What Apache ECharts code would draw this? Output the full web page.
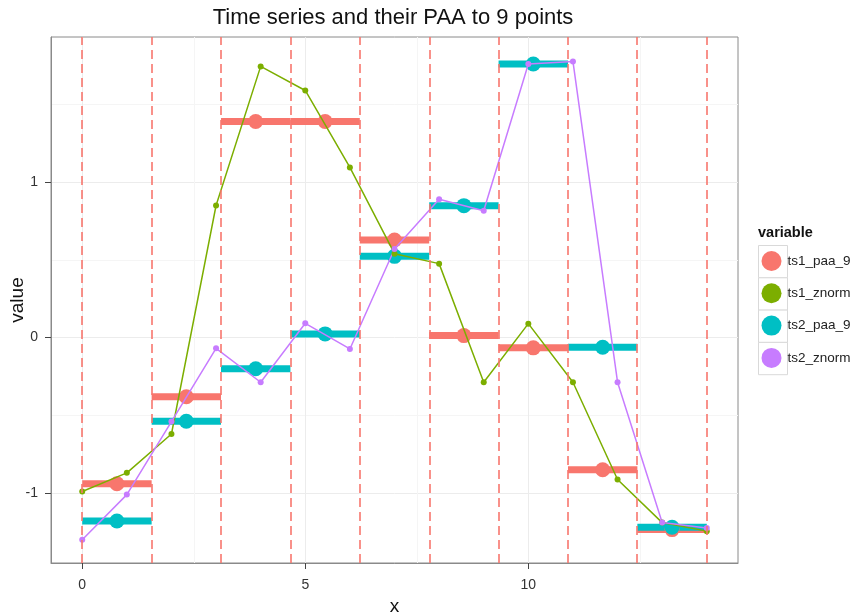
<!DOCTYPE html>
<html>
<head>
<meta charset="utf-8">
<script src="https://cdn.jsdelivr.net/npm/echarts@6/dist/echarts.min.js"></script>
<style>
  html, body { margin: 0; padding: 0; background: #fff; }
  #chart { width: 856px; height: 616px; }
</style>
</head>
<body>
<div id="chart"></div>
<script>
// values
const xs = [0, 1, 2, 3, 4, 5, 6, 7, 8, 9, 10, 11, 12, 13, 14];
const ts1Znorm = [-0.99, -0.87, -0.62, 0.85, 1.745, 1.59, 1.095, 0.54, 0.476, -0.287, 0.09, -0.287, -0.913, -1.19, -1.245];
const ts2Znorm = [-1.30, -1.01, -0.54, -0.069, -0.287, 0.092, -0.073, 0.57, 0.89, 0.816, 1.76, 1.777, -0.287, -1.19, -1.225];

// PAA segment borders (9 segments over 0..14) and segment means
const breaks = [0, 1.556, 3.111, 4.667, 6.222, 7.778, 9.333, 10.889, 12.444, 14];
const ts1Paa = [-0.94, -0.38, 1.39, 1.39, 0.628, 0.013, -0.066, -0.85, -1.235];
const ts2Paa = [-1.18, -0.538, -0.20, 0.024, 0.523, 0.849, 1.76, -0.062, -1.22];

const variables = ['ts1_paa_9', 'ts1_znorm', 'ts2_paa_9', 'ts2_znorm'];
const colors = ['#F8766D', '#7CAE00', '#00BFC4', '#C77CFF'];

const xTicks = [0, 5, 10];
const xMinor = [2.5, 7.5, 12.5];
const yTicks = [-1, 0, 1];
const yMinor = [-0.5, 0.5, 1.5];

const FONT = '"Liberation Sans", Arial, sans-serif';

const segs = vals => vals.map((v, i) => [breaks[i], breaks[i + 1], v]);
const mids = vals => vals.map((v, i) => [(breaks[i] + breaks[i + 1]) / 2, v]);
const pts = vals => vals.map((v, i) => [xs[i], v]);

function paaBars(name, vals, color) {
  return {
    name: name,
    type: 'custom',
    z: 2,
    itemStyle: { color: color },
    encode: { x: [0, 1], y: 2 },
    data: segs(vals),
    renderItem: (params, api) => {
      const a = api.coord([api.value(0), api.value(2)]);
      const b = api.coord([api.value(1), api.value(2)]);
      return {
        type: 'rect',
        shape: { x: a[0], y: a[1] - 3.5, width: b[0] - a[0], height: 7 },
        style: { fill: color }
      };
    }
  };
}

function paaPoints(name, vals, color) {
  return {
    name: name,
    type: 'scatter',
    z: 3,
    symbol: 'circle',
    symbolSize: 15,
    itemStyle: { color: color, opacity: 1 },
    data: mids(vals)
  };
}

function znormLine(name, vals, color) {
  return {
    name: name,
    type: 'line',
    z: 4,
    symbol: 'circle',
    symbolSize: 6,
    showSymbol: true,
    itemStyle: { color: color },
    lineStyle: { color: color, width: 1.5 },
    data: pts(vals)
  };
}

const chart = echarts.init(document.getElementById('chart'));
chart.setOption({
  animation: false,
  backgroundColor: '#fff',
  title: [
    {
      text: 'Time series and their PAA to 9 points',
      left: 393, top: 7, padding: 0, textAlign: 'center',
      textStyle: { fontFamily: FONT, fontSize: 22, fontWeight: 'normal', color: '#111' }
    },
    {
      text: 'variable',
      left: 758, top: 225, padding: 0,
      textStyle: { fontFamily: FONT, fontSize: 14.5, fontWeight: 'bold', color: '#111' }
    }
  ],
  legend: {
    orient: 'vertical',
    left: 761.5, top: 251, padding: 0,
    itemWidth: 22, itemHeight: 20, itemGap: 12.3,
    data: variables.map(v => ({ name: v, icon: 'circle' })),
    textStyle: { fontFamily: FONT, fontSize: 13.5, color: '#222' }
  },
  graphic: variables.map((v, i) => ({
    type: 'rect',
    left: 758, top: 245 + i * 32.3, z: 0,
    shape: { width: 29, height: 32.3 },
    style: { fill: '#fff', stroke: '#d9d9d9', lineWidth: 1 }
  })),
  grid: {
    left: 51, right: 118, top: 37, bottom: 53,
    containLabel: false, outerBoundsMode: 'none',
    show: true, borderColor: '#8a8a8a', borderWidth: 1, backgroundColor: '#fff'
  },
  xAxis: [
    {
      type: 'value', min: -0.7, max: 14.7,
      name: 'x', nameLocation: 'middle', nameGap: 34, nameMoveOverlap: false,
      nameTextStyle: { fontFamily: FONT, fontSize: 19, color: '#111' },
      axisLine: { show: true, onZero: false, lineStyle: { color: '#8a8a8a' } },
      axisTick: { show: true, length: 6, customValues: xTicks, lineStyle: { color: '#444' } },
      axisLabel: { customValues: xTicks, margin: 15, fontFamily: FONT, fontSize: 14, color: '#333' },
      splitLine: { show: true, lineStyle: { color: '#ececec', width: 1 } }
    },
    {
      type: 'value', min: -0.7, max: 14.7, position: 'top',
      axisLine: { show: false },
      axisTick: { show: false, customValues: xMinor },
      axisLabel: { show: false, customValues: xMinor },
      splitLine: { show: true, lineStyle: { color: '#f5f5f5', width: 1 } }
    }
  ],
  yAxis: [
    {
      type: 'value', min: -1.45, max: 1.934,
      name: 'value', nameLocation: 'middle', nameGap: 24, nameMoveOverlap: false,
      nameTextStyle: { fontFamily: FONT, fontSize: 19, color: '#111' },
      axisLine: { show: true, onZero: false, lineStyle: { color: '#8a8a8a' } },
      axisTick: { show: true, length: 6, customValues: yTicks, lineStyle: { color: '#444' } },
      axisLabel: { customValues: yTicks, margin: 13, fontFamily: FONT, fontSize: 14, color: '#333' },
      splitLine: { show: true, lineStyle: { color: '#ececec', width: 1 } }
    },
    {
      type: 'value', min: -1.45, max: 1.934, position: 'right',
      axisLine: { show: false },
      axisTick: { show: false, customValues: yMinor },
      axisLabel: { show: false, customValues: yMinor },
      splitLine: { show: true, lineStyle: { color: '#f5f5f5', width: 1 } }
    }
  ],
  series: [
    paaBars('ts1_paa_9', ts1Paa, colors[0]),
    paaBars('ts2_paa_9', ts2Paa, colors[2]),
    paaPoints('ts1_paa_9', ts1Paa, colors[0]),
    paaPoints('ts2_paa_9', ts2Paa, colors[2]),
    znormLine('ts1_znorm', ts1Znorm, colors[1]),
    znormLine('ts2_znorm', ts2Znorm, colors[3]),
    {
      name: 'breaks',
      type: 'line',
      z: 5,
      data: [],
      markLine: {
        silent: true,
        symbol: 'none',
        label: { show: false },
        lineStyle: { color: 'rgba(248,118,109,0.8)', type: [9, 5], width: 2 },
        data: breaks.map(b => ({ xAxis: b }))
      }
    }
  ]
});
</script>
</body>
</html>
